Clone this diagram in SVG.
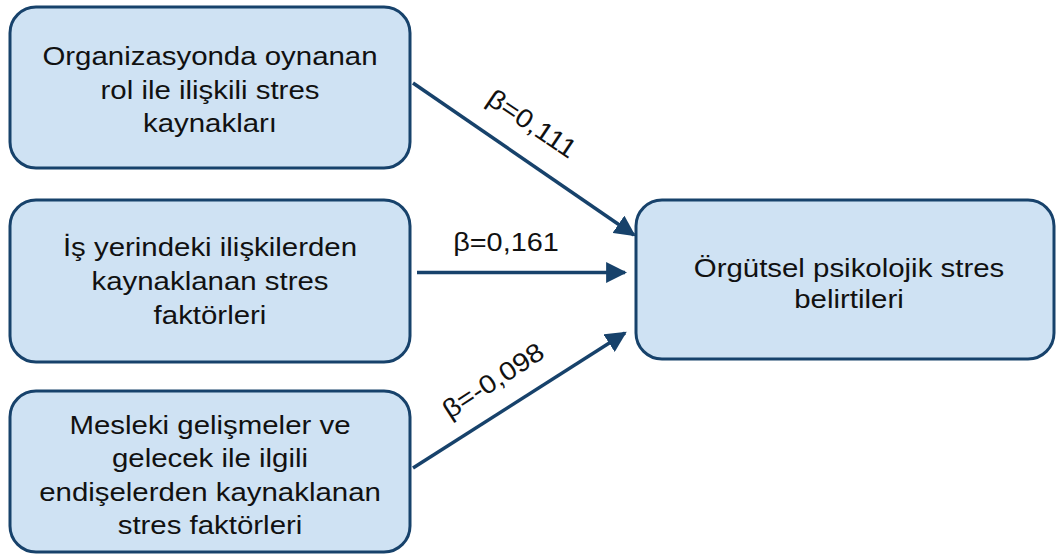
<svg xmlns="http://www.w3.org/2000/svg" width="1056" height="556" viewBox="0 0 1056 556">
<style>
.box{fill:#cfe2f3;stroke:#17426b;stroke-width:3}
.t{font-family:"Liberation Sans",Arial,sans-serif;font-size:26.5px;fill:#111;text-anchor:middle}
.lbl{font-family:"Liberation Sans",Arial,sans-serif;font-size:26px;fill:#111;text-anchor:middle}
.edge{stroke:#17426b;stroke-width:3.5;fill:none}
</style>
<defs>
<marker id="ah" viewBox="0 0 10 10" refX="9" refY="5" markerWidth="6" markerHeight="6" markerUnits="strokeWidth" orient="auto">
<path d="M0,0 L10,5 L0,10 z" fill="#17426b"/>
</marker>
</defs>
<rect width="1056" height="556" fill="#fff"/>
<g id="n1">
<rect class="box" x="10" y="7" width="400" height="161" rx="26"/>
<g transform="translate(210,0) scale(1.11,1)">
<text class="t" x="0" y="65">Organizasyonda oynanan</text>
<text class="t" x="0" y="99">rol ile ilişkili stres</text>
<text class="t" x="0" y="132">kaynakları</text>
</g>
</g>
<g id="n2">
<rect class="box" x="10" y="200" width="400" height="162" rx="26"/>
<g transform="translate(210,0) scale(1.11,1)">
<text class="t" x="0" y="256">İş yerindeki ilişkilerden</text>
<text class="t" x="0" y="290">kaynaklanan stres</text>
<text class="t" x="0" y="324">faktörleri</text>
</g>
</g>
<g id="n3">
<rect class="box" x="10" y="391" width="400" height="161" rx="26"/>
<g transform="translate(210,0) scale(1.11,1)">
<text class="t" x="0" y="434">Mesleki gelişmeler ve</text>
<text class="t" x="0" y="467">gelecek ile ilgili</text>
<text class="t" x="0" y="501">endişelerden kaynaklanan</text>
<text class="t" x="0" y="534">stres faktörleri</text>
</g>
</g>
<g id="n4">
<rect class="box" x="636" y="200" width="418" height="159" rx="26"/>
<g transform="translate(849,0) scale(1.11,1)">
<text class="t" x="0" y="277">Örgütsel psikolojik stres</text>
<text class="t" x="0" y="308">belirtileri</text>
</g>
</g>
<g id="edges">
<line class="edge" x1="413" y1="83" x2="634" y2="235" marker-end="url(#ah)"/>
<line class="edge" x1="417" y1="272.5" x2="625" y2="272.5" marker-end="url(#ah)"/>
<line class="edge" x1="413" y1="468" x2="625" y2="333" marker-end="url(#ah)"/>
<text class="lbl" transform="translate(527,131) rotate(34) scale(1.11,1)">β=0,111</text>
<text class="lbl" transform="translate(506,251) scale(1.11,1)">β=0,161</text>
<text class="lbl" transform="translate(498,388) rotate(-33) scale(1.11,1)">β=-0,098</text>
</g>
</svg>
